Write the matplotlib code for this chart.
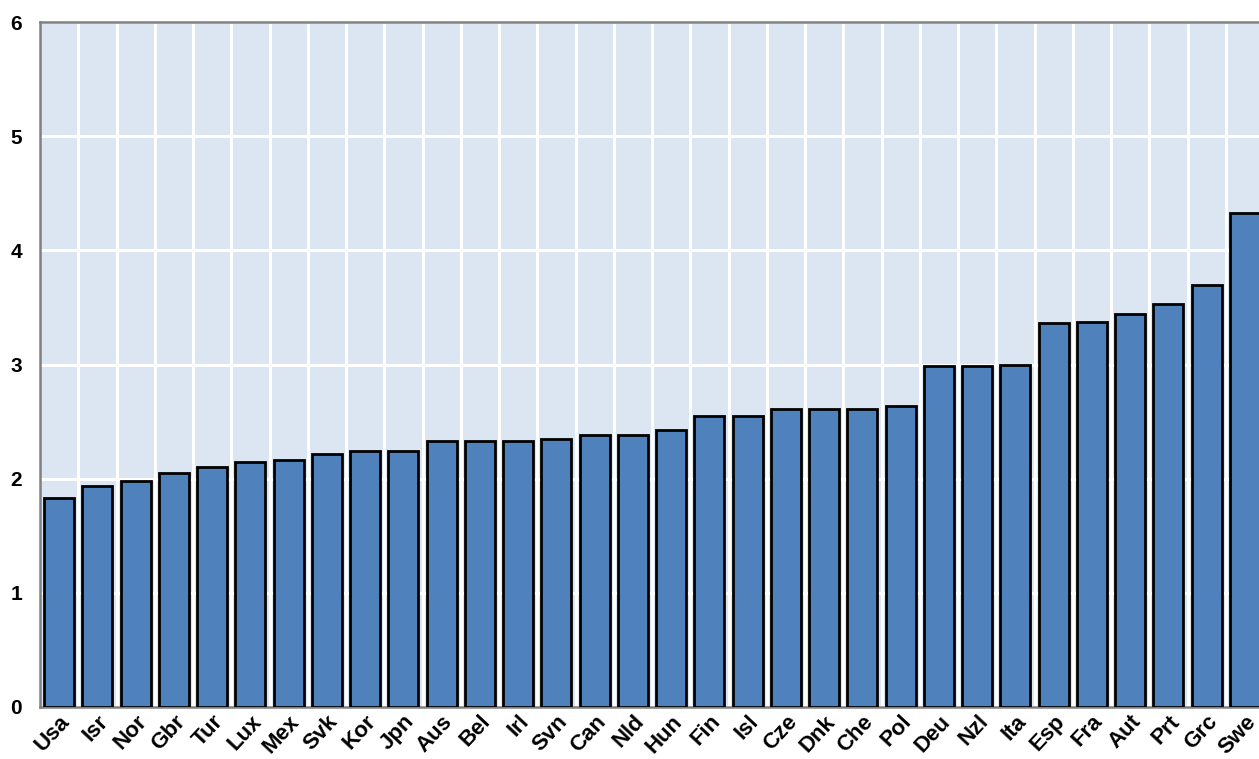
import numpy as np
import matplotlib
matplotlib.use('Agg')
from matplotlib import pyplot as plt

countries = ['Usa', 'Isr', 'Nor', 'Gbr', 'Tur', 'Lux', 'Mex', 'Svk', 'Kor', 'Jpn',
             'Aus', 'Bel', 'Irl', 'Svn', 'Can', 'Nld', 'Hun', 'Fin', 'Isl', 'Cze',
             'Dnk', 'Che', 'Pol', 'Deu', 'Nzl', 'Ita', 'Esp', 'Fra', 'Aut', 'Prt',
             'Grc', 'Swe']
values = [1.83, 1.94, 1.98, 2.05, 2.10, 2.15, 2.16, 2.22, 2.24, 2.24,
          2.33, 2.33, 2.33, 2.35, 2.38, 2.38, 2.43, 2.55, 2.55, 2.61,
          2.61, 2.61, 2.64, 2.99, 2.99, 3.00, 3.36, 3.37, 3.44, 3.53,
          3.70, 4.33]
yticks = [0, 1, 2, 3, 4, 5, 6]

plt.rcParams['font.family'] = ['Liberation Sans', 'DejaVu Sans']

fig = plt.figure(figsize=(12.59, 7.59), dpi=100)
ax = fig.add_axes([40 / 1259, 1 - 707 / 759, 1224 / 1259, 685 / 759])

x = np.arange(len(countries))
ax.bar(x, values, width=0.78, color='#4F81BD', edgecolor='black', linewidth=2, zorder=3)

ax.set_facecolor('#DCE6F2')
ax.set_xlim(-0.5, len(countries) - 0.5)
ax.set_ylim(0, 6)
ax.set_yticks(yticks)
ax.set_yticklabels([str(v) for v in yticks], fontsize=15, fontweight='bold')
ax.set_xticks(x)
ax.set_xticklabels(countries, rotation=47, ha='right', rotation_mode='anchor',
                   fontsize=16, fontweight='bold')
ax.set_xticks(x[:-1] + 0.5, minor=True)

ax.grid(axis='y', which='major', color='white', linewidth=2.2, zorder=1)
ax.grid(axis='x', which='minor', color='white', linewidth=2.2, zorder=1)
ax.tick_params(axis='both', which='both', length=0)
ax.tick_params(axis='y', pad=13)
ax.tick_params(axis='x', pad=3)

for side in ['left', 'top', 'bottom']:
    ax.spines[side].set_color('#808080')
    ax.spines[side].set_linewidth(1.8)
ax.spines['right'].set_visible(False)

fig.savefig('out.png', dpi=100)
